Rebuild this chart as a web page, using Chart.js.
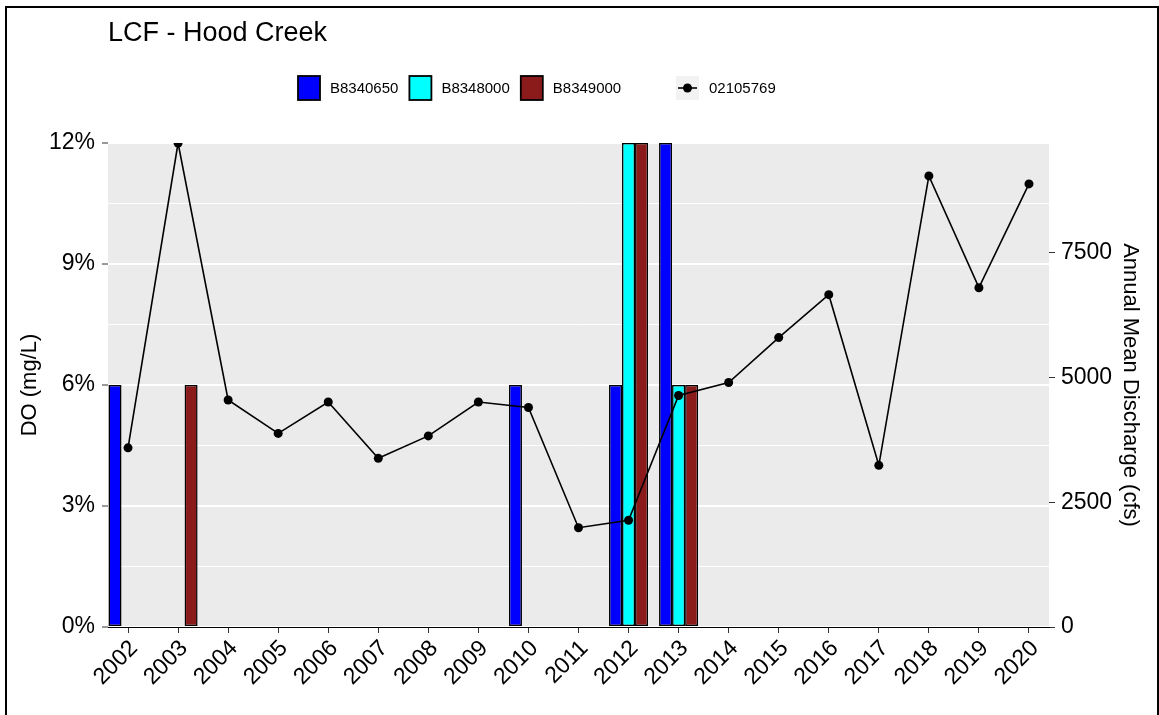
<!DOCTYPE html>
<html>
<head>
<meta charset="utf-8">
<script src="https://cdn.jsdelivr.net/npm/chart.js@4.4.1/dist/chart.umd.min.js"></script>
<style>
  html, body { margin: 0; padding: 0; background: #ffffff; }
  canvas { display: block; }
</style>
</head>
<body>
<canvas id="chart" width="1159" height="715"></canvas>
<script>
// ---- data ---------------------------------------------------------------
const TITLE = 'LCF - Hood Creek';
const YEARS = ['2002', '2003', '2004', '2005', '2006', '2007', '2008', '2009', '2010', '2011',
               '2012', '2013', '2014', '2015', '2016', '2017', '2018', '2019', '2020'];

// DO exceedance (%) per station, null where a year has no bar
const B8340650 = [6, null, null, null, null, null, null, null, 6, null, 6, 12, null, null, null, null, null, null, null];
const B8348000 = [null, null, null, null, null, null, null, null, null, null, 12, 6, null, null, null, null, null, null, null];
const B8349000 = [null, 6, null, null, null, null, null, null, null, null, 12, 6, null, null, null, null, null, null, null];

// annual mean discharge (cfs) at gauge 02105769
const Q_02105769 = [3590, 9700, 4550, 3880, 4510, 3380, 3830, 4510, 4400, 1990,
                    2140, 4640, 4900, 5800, 6660, 3240, 9040, 6800, 8880];

const DO_TICKS = [0, 3, 6, 9, 12];
const DO_GRID = [0, 1.5, 3, 4.5, 6, 7.5, 9, 10.5, 12];
const Q_TICKS = [0, 2500, 5000, 7500];
const Q_AXIS_MAX = 9700;   // discharge equivalent of the 12% top of the DO axis

// ---- drawing ------------------------------------------------------------
const FONT = "'Liberation Sans', Arial, Helvetica, sans-serif";
const toPoints = arr => arr.map((v, i) => ({ x: i, y: v }));
const isMajor = v => DO_TICKS.includes(v);

const barStyle = {
  type: 'bar',
  yAxisID: 'y',
  borderColor: '#000000',
  borderWidth: 1.5,
  borderSkipped: false,
  categoryPercentage: 0.78,
  barPercentage: 1,
  order: 1
};

// grey panel under the grid, frame, title and the two-part legend
const decorations = {
  id: 'decorations',
  beforeDraw(chart) {
    const { ctx, chartArea: a } = chart;
    ctx.save();
    ctx.fillStyle = '#ffffff';
    ctx.fillRect(0, 0, chart.width, chart.height);
    ctx.fillStyle = '#EBEBEB';
    ctx.fillRect(a.left, a.top, a.right - a.left, a.bottom - a.top);
    ctx.restore();
  },
  afterDraw(chart) {
    const ctx = chart.ctx;
    ctx.save();
    ctx.strokeStyle = '#000000';
    ctx.lineWidth = 2;
    ctx.strokeRect(6, 7, chart.width - 7, chart.height + 20);

    ctx.fillStyle = '#000000';
    ctx.textAlign = 'left';
    ctx.textBaseline = 'middle';
    ctx.font = `27px ${FONT}`;
    ctx.fillText(TITLE, 108, 34);

    const yMid = 88, kw = 22, kh = 24;
    ctx.font = `15px ${FONT}`;
    let x = 298;
    chart.data.datasets.filter(d => d.type === 'bar').forEach(d => {
      ctx.fillStyle = d.backgroundColor;
      ctx.fillRect(x, yMid - kh / 2, kw, kh);
      ctx.lineWidth = 1.8;
      ctx.strokeStyle = '#000000';
      ctx.strokeRect(x, yMid - kh / 2, kw, kh);
      ctx.fillStyle = '#000000';
      ctx.fillText(d.label, x + kw + 10, yMid + 1);
      x += kw + 10 + ctx.measureText(d.label).width + 11;
    });

    const line = chart.data.datasets.find(d => d.type === 'line');
    const lx = 676;
    ctx.fillStyle = '#F2F2F2';
    ctx.fillRect(lx, yMid - kh / 2, 23, kh);
    ctx.strokeStyle = line.borderColor;
    ctx.lineWidth = 1.6;
    ctx.beginPath();
    ctx.moveTo(lx + 2, yMid);
    ctx.lineTo(lx + 21, yMid);
    ctx.stroke();
    ctx.fillStyle = line.pointBackgroundColor;
    ctx.beginPath();
    ctx.arc(lx + 11.5, yMid, 4.5, 0, Math.PI * 2);
    ctx.fill();
    ctx.fillStyle = '#000000';
    ctx.fillText(line.label, lx + 33, yMid + 1);
    ctx.restore();
  }
};

new Chart(document.getElementById('chart'), {
  data: {
    datasets: [
      { ...barStyle, label: 'B8340650', data: toPoints(B8340650), backgroundColor: '#0000FF' },
      { ...barStyle, label: 'B8348000', data: toPoints(B8348000), backgroundColor: '#00FFFF' },
      { ...barStyle, label: 'B8349000', data: toPoints(B8349000), backgroundColor: '#8B1A1A' },
      {
        type: 'line',
        label: '02105769',
        yAxisID: 'y2',
        data: toPoints(Q_02105769),
        borderColor: '#000000',
        borderWidth: 1.6,
        pointRadius: 4.5,
        pointBorderWidth: 0,
        pointBackgroundColor: '#000000',
        tension: 0,
        order: 0
      }
    ]
  },
  options: {
    responsive: false,
    animation: false,
    events: [],
    layout: { padding: { top: 143, left: 0, right: 0, bottom: 0 } },
    plugins: {
      legend: { display: false },
      title: { display: false },
      tooltip: { enabled: false }
    },
    scales: {
      x: {
        type: 'linear',
        offset: false,
        min: -0.4,
        max: YEARS.length - 1 + 0.4,
        afterBuildTicks: s => { s.ticks = YEARS.map((_, i) => ({ value: i })); },
        afterFit: s => { s.height = 88; },
        ticks: {
          autoSkip: false,
          minRotation: 45,
          maxRotation: 45,
          labelOffset: 6,
          padding: 2,
          color: '#000000',
          font: { family: FONT, size: 23 },
          callback: (v, i) => YEARS[i]
        },
        grid: {
          display: true,
          offset: false,
          drawOnChartArea: false,
          drawTicks: true,
          tickLength: 6,
          tickColor: '#333333',
          tickWidth: 1
        },
        border: { display: true, color: '#000000', width: 1 }
      },
      y: {
        position: 'left',
        min: 0,
        max: 12,
        afterBuildTicks: s => { s.ticks = DO_GRID.map(v => ({ value: v })); },
        afterFit: s => { s.width = 108; },
        ticks: {
          autoSkip: false,
          padding: 7,
          color: '#000000',
          font: { family: FONT, size: 23 },
          callback: v => (isMajor(v) ? v + '%' : '')
        },
        grid: {
          color: '#ffffff',
          lineWidth: c => (isMajor(c.tick.value) ? 2 : 1),
          drawTicks: true,
          tickLength: 6,
          tickWidth: 1,
          tickColor: c => (isMajor(c.tick.value) ? '#333333' : 'rgba(0,0,0,0)')
        },
        border: { display: false },
        title: {
          display: true,
          text: 'DO (mg/L)',
          color: '#000000',
          font: { family: FONT, size: 22 },
          padding: { top: 17, bottom: 0 }
        }
      },
      y2: {
        position: 'right',
        min: 0,
        max: Q_AXIS_MAX,
        afterBuildTicks: s => { s.ticks = Q_TICKS.map(v => ({ value: v })); },
        afterFit: s => { s.width = 110; },
        ticks: {
          autoSkip: false,
          padding: 6,
          color: '#000000',
          font: { family: FONT, size: 23 },
          callback: v => String(v)
        },
        grid: {
          drawOnChartArea: false,
          drawTicks: true,
          tickLength: 6,
          tickWidth: 1,
          tickColor: '#333333'
        },
        border: { display: false },
        title: {
          display: true,
          text: 'Annual Mean Discharge (cfs)',
          color: '#000000',
          font: { family: FONT, size: 22 },
          padding: { top: 16, bottom: 0 }
        }
      }
    }
  },
  plugins: [decorations]
});
</script>
</body>
</html>
